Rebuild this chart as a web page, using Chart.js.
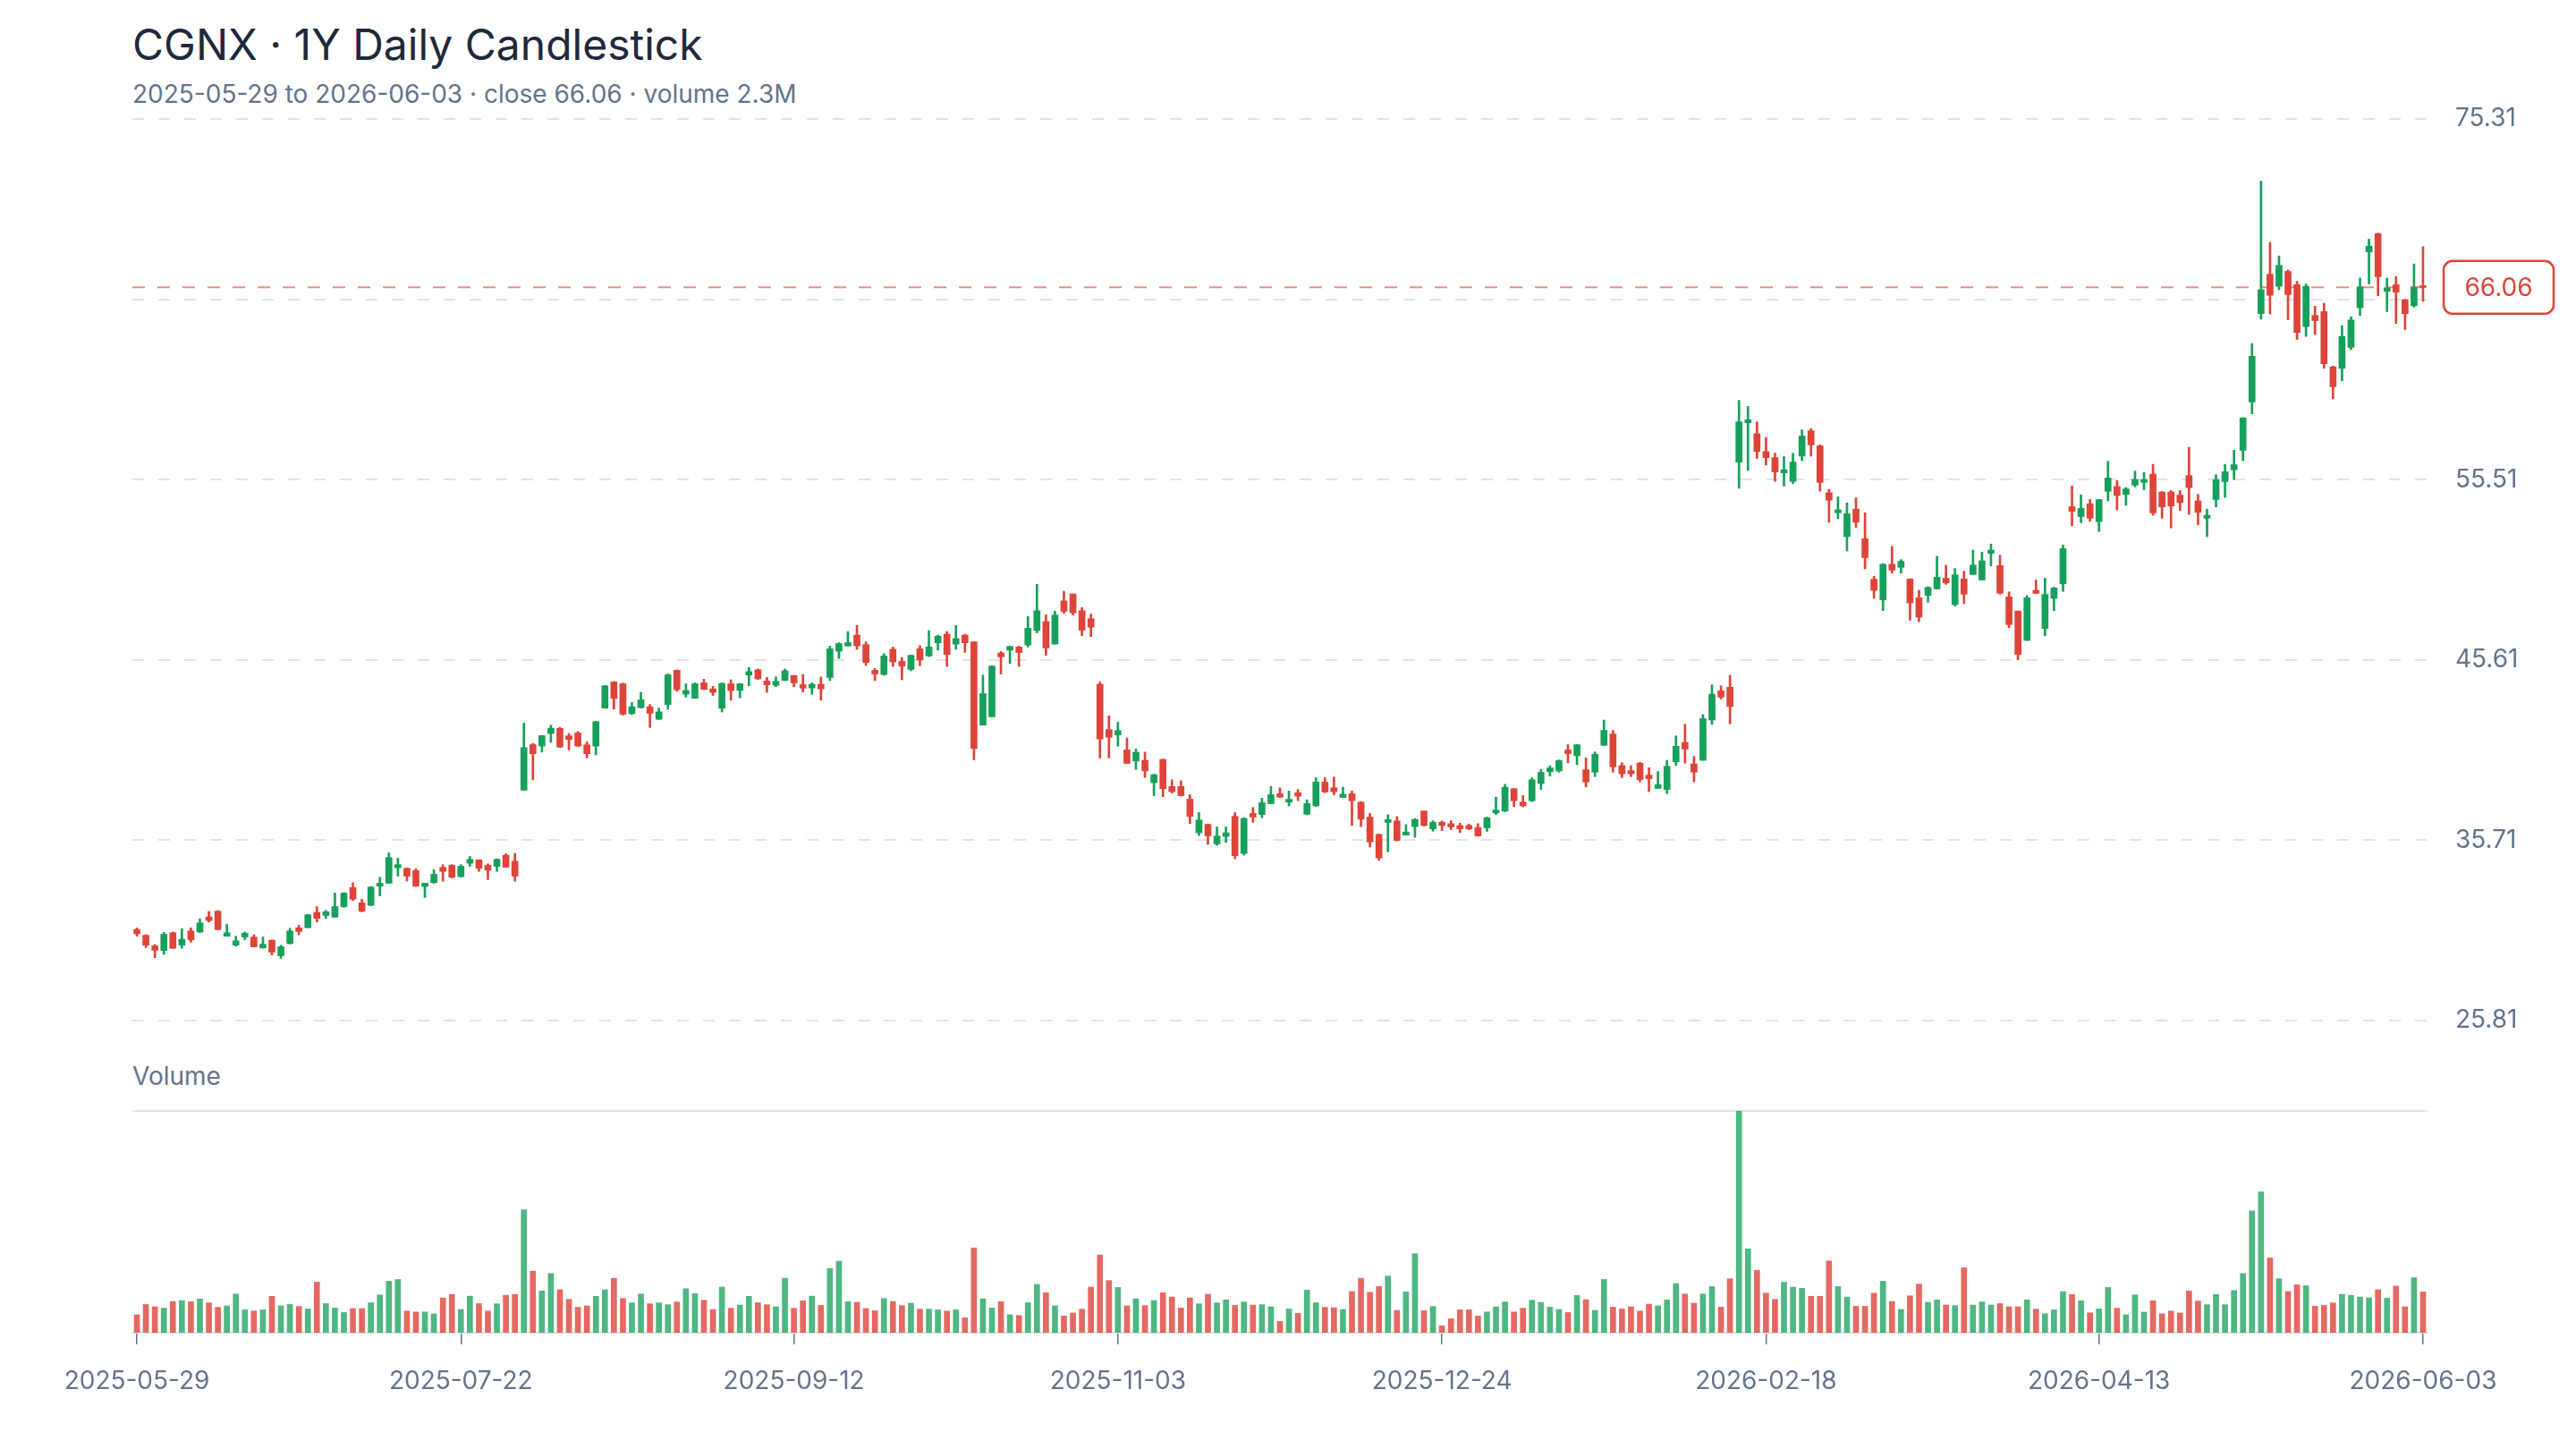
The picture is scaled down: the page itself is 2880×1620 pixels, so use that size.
<!DOCTYPE html>
<html><head><meta charset="utf-8">
<script src="https://cdn.jsdelivr.net/npm/chart.js@4.4.1/dist/chart.umd.min.js"></script>
<style>
html,body{margin:0;padding:0;background:#fff;}
body{width:2880px;height:1620px;position:relative;overflow:hidden;font-family:Inter,"Noto Sans",sans-serif;}
#title{position:absolute;left:148px;top:20px;font-size:48px;font-weight:400;color:#1e293b;line-height:60px;white-space:nowrap;}
#sub{position:absolute;left:148px;top:88px;font-size:28px;color:#64748b;line-height:34px;white-space:nowrap;}
#volLabel{position:absolute;left:148px;top:1186px;font-size:28px;color:#64748b;line-height:34px;}
#pc{position:absolute;left:0;top:0;}
#vc{position:absolute;left:0;top:1160px;}
</style></head>
<body>
<div id="title">CGNX · 1Y Daily Candlestick</div>
<div id="sub"></div>
<div id="volLabel">Volume</div>
<canvas id="pc" width="2880" height="1160"></canvas>
<canvas id="vc" width="2880" height="460"></canvas>
<script>
const dates = [
'2025-05-29','2025-05-30',
'2025-06-02','2025-06-03','2025-06-04','2025-06-05','2025-06-06','2025-06-09','2025-06-10','2025-06-11','2025-06-12','2025-06-13','2025-06-16','2025-06-17','2025-06-18','2025-06-20','2025-06-23','2025-06-24','2025-06-25','2025-06-26','2025-06-27','2025-06-30',
'2025-07-01','2025-07-02','2025-07-03','2025-07-07','2025-07-08','2025-07-09','2025-07-10','2025-07-11','2025-07-14','2025-07-15','2025-07-16','2025-07-17','2025-07-18','2025-07-21','2025-07-22','2025-07-23','2025-07-24','2025-07-25','2025-07-28','2025-07-29','2025-07-30','2025-07-31',
'2025-08-01','2025-08-04','2025-08-05','2025-08-06','2025-08-07','2025-08-08','2025-08-11','2025-08-12','2025-08-13','2025-08-14','2025-08-15','2025-08-18','2025-08-19','2025-08-20','2025-08-21','2025-08-22','2025-08-25','2025-08-26','2025-08-27','2025-08-28','2025-08-29',
'2025-09-02','2025-09-03','2025-09-04','2025-09-05','2025-09-08','2025-09-09','2025-09-10','2025-09-11','2025-09-12','2025-09-15','2025-09-16','2025-09-17','2025-09-18','2025-09-19','2025-09-22','2025-09-23','2025-09-24','2025-09-25','2025-09-26','2025-09-29','2025-09-30',
'2025-10-01','2025-10-02','2025-10-03','2025-10-06','2025-10-07','2025-10-08','2025-10-09','2025-10-10','2025-10-13','2025-10-14','2025-10-15','2025-10-16','2025-10-17','2025-10-20','2025-10-21','2025-10-22','2025-10-23','2025-10-24','2025-10-27','2025-10-28','2025-10-29','2025-10-30','2025-10-31',
'2025-11-03','2025-11-04','2025-11-05','2025-11-06','2025-11-07','2025-11-10','2025-11-11','2025-11-12','2025-11-13','2025-11-14','2025-11-17','2025-11-18','2025-11-19','2025-11-20','2025-11-21','2025-11-24','2025-11-25','2025-11-26','2025-11-28',
'2025-12-01','2025-12-02','2025-12-03','2025-12-04','2025-12-05','2025-12-08','2025-12-09','2025-12-10','2025-12-11','2025-12-12','2025-12-15','2025-12-16','2025-12-17','2025-12-18','2025-12-19','2025-12-22','2025-12-23','2025-12-24','2025-12-26','2025-12-29','2025-12-30','2025-12-31',
'2026-01-02','2026-01-05','2026-01-06','2026-01-07','2026-01-08','2026-01-09','2026-01-12','2026-01-13','2026-01-14','2026-01-15','2026-01-16','2026-01-20','2026-01-21','2026-01-22','2026-01-23','2026-01-26','2026-01-27','2026-01-28','2026-01-29','2026-01-30',
'2026-02-02','2026-02-03','2026-02-04','2026-02-05','2026-02-06','2026-02-09','2026-02-10','2026-02-11','2026-02-12','2026-02-13','2026-02-17','2026-02-18','2026-02-19','2026-02-20','2026-02-23','2026-02-24','2026-02-25','2026-02-26','2026-02-27',
'2026-03-02','2026-03-03','2026-03-04','2026-03-05','2026-03-06','2026-03-09','2026-03-10','2026-03-11','2026-03-12','2026-03-13','2026-03-16','2026-03-17','2026-03-18','2026-03-19','2026-03-20','2026-03-23','2026-03-24','2026-03-25','2026-03-26','2026-03-27','2026-03-30','2026-03-31',
'2026-04-01','2026-04-02','2026-04-06','2026-04-07','2026-04-08','2026-04-09','2026-04-10','2026-04-13','2026-04-14','2026-04-15','2026-04-16','2026-04-17','2026-04-20','2026-04-21','2026-04-22','2026-04-23','2026-04-24','2026-04-27','2026-04-28','2026-04-29','2026-04-30',
'2026-05-01','2026-05-04','2026-05-05','2026-05-06','2026-05-07','2026-05-08','2026-05-11','2026-05-12','2026-05-13','2026-05-14','2026-05-15','2026-05-18','2026-05-19','2026-05-20','2026-05-21','2026-05-22','2026-05-26','2026-05-27','2026-05-28','2026-05-29',
'2026-06-01','2026-06-02','2026-06-03'
];

const open = [
30.81,30.49,29.91,29.65,30.63,29.95,30.73,30.67,31.50,31.81,
30.44,29.95,30.40,30.39,29.80,30.22,29.37,30.04,30.90,30.91,
31.75,31.58,31.49,32.07,33.11,32.27,32.14,33.19,33.35,34.20,
34.17,34.04,33.17,33.38,34.22,34.33,33.71,34.45,34.63,34.33,
34.28,34.89,34.56,38.46,40.96,40.88,41.57,41.85,41.44,41.60,
40.95,40.88,42.96,44.40,44.30,42.67,42.99,43.04,42.35,43.16,
45.04,43.73,43.50,44.35,44.02,42.96,44.30,43.94,44.78,45.07,
44.45,44.22,44.48,44.75,44.25,44.07,44.27,44.65,46.09,46.38,
46.97,46.45,45.04,44.81,46.20,45.53,45.09,46.22,45.83,46.55,
47.02,46.48,46.97,46.60,42.03,42.49,45.99,46.15,46.32,46.43,
47.22,47.71,46.48,48.85,49.23,48.31,47.87,44.27,41.78,41.49,
40.67,40.06,40.10,38.87,40.15,38.66,38.66,37.97,36.12,36.58,
35.51,35.92,37.02,34.99,37.18,37.12,37.72,38.26,37.80,38.32,
37.14,37.60,38.90,38.59,38.06,38.26,37.80,36.98,36.03,36.69,
36.77,35.99,36.46,37.31,36.33,36.70,36.62,36.52,36.52,36.41,
36.39,37.21,37.31,38.54,37.80,37.88,38.83,39.47,39.52,40.66,
40.35,39.58,39.45,40.92,41.54,39.81,39.53,39.94,39.28,38.56,
38.50,40.02,41.08,39.90,40.10,42.31,43.91,44.11,56.47,58.63,
58.03,57.05,56.72,55.88,55.41,56.80,58.19,57.36,54.79,53.69,
52.38,53.89,52.26,50.04,48.91,50.86,50.69,50.05,49.02,49.15,
49.51,50.09,48.65,50.05,50.30,50.00,51.46,50.79,49.07,48.29,
46.68,49.43,47.34,48.99,49.79,54.02,53.48,54.18,53.20,54.87,
55.13,54.70,55.21,55.36,55.81,54.83,54.83,54.66,55.73,54.34,
53.39,54.42,55.40,56.05,57.12,59.77,64.62,66.78,66.12,66.94,
66.21,63.91,64.52,64.73,61.70,61.62,62.77,64.94,68.01,69.02,
65.85,66.21,65.39,65.06,66.16
];
const high = [
30.90,30.52,29.98,30.65,30.67,30.85,30.90,31.39,31.80,31.85,
31.09,30.44,30.67,30.52,30.40,30.24,29.95,30.88,31.04,31.65,
32.07,31.86,32.81,32.83,33.38,32.47,33.17,33.68,35.02,34.73,
34.19,34.14,33.35,34.09,34.37,34.37,34.37,34.82,34.64,34.41,
34.69,34.97,34.99,42.14,41.03,41.47,42.03,41.91,41.57,41.68,
41.11,42.24,44.20,44.42,44.34,43.27,43.83,43.16,42.96,44.84,
45.06,44.30,44.35,44.55,44.16,44.35,44.52,44.32,45.20,45.11,
44.65,44.68,45.11,44.76,44.81,44.35,44.68,46.37,46.55,47.17,
47.51,46.60,45.14,45.96,46.32,45.74,45.88,46.40,47.22,46.97,
47.17,47.50,47.02,46.61,44.78,45.30,46.07,46.37,46.37,47.99,
49.76,48.09,48.28,49.38,49.23,48.48,48.12,44.40,42.54,42.19,
41.32,40.72,40.55,39.33,40.16,39.03,38.98,38.21,37.23,36.59,
36.44,36.44,37.23,36.95,37.51,38.02,38.66,38.59,38.41,38.50,
37.93,39.14,39.14,39.18,38.62,38.41,37.83,37.18,36.05,37.11,
37.01,36.57,36.90,37.32,36.78,36.77,36.78,36.65,36.60,36.62,
36.98,38.08,38.78,38.55,38.16,39.14,39.60,39.80,40.12,40.96,
40.97,40.23,40.56,42.31,41.74,39.97,39.81,39.99,39.69,39.48,
40.10,41.44,42.07,40.31,42.61,44.24,44.19,44.77,59.86,59.53,
58.68,57.83,56.96,56.77,56.96,58.24,58.31,57.42,54.97,54.56,
54.23,54.51,53.69,50.20,50.90,51.84,51.12,50.07,49.43,49.63,
51.30,50.81,50.63,50.48,51.64,51.53,51.97,51.36,49.35,48.30,
49.14,50.00,50.09,49.60,51.92,55.16,54.67,54.42,54.42,56.52,
55.46,55.08,55.98,55.90,56.35,54.86,54.91,54.91,57.28,54.70,
53.88,55.78,56.35,57.12,58.92,62.98,71.89,68.53,67.79,67.02,
66.40,66.25,65.03,65.19,61.74,63.96,64.44,66.58,68.71,69.04,
66.57,66.66,65.40,67.35,68.30
];
const low = [
30.44,29.82,29.26,29.45,29.77,29.78,30.11,30.65,31.22,30.80,
30.44,29.90,30.24,29.85,29.78,29.41,29.23,30.01,30.52,30.90,
31.22,31.42,31.47,32.02,32.40,31.78,32.11,32.66,33.34,33.74,
33.47,33.17,32.57,33.35,33.46,33.64,33.69,34.28,34.00,33.55,
34.00,34.22,33.46,38.46,39.03,40.55,41.08,40.80,40.67,40.86,
40.23,40.39,42.96,42.91,42.58,42.62,42.96,41.90,42.34,42.91,
43.89,43.57,43.50,43.98,43.66,42.75,43.40,43.53,44.19,44.53,
43.83,44.14,44.47,44.14,43.86,43.73,43.40,44.47,45.69,46.37,
46.19,45.30,44.48,44.76,45.25,44.52,45.01,45.29,45.79,46.15,
45.25,46.19,46.02,40.13,42.03,42.49,44.84,45.42,45.25,46.32,
47.10,45.86,46.48,48.17,48.07,46.94,46.89,40.23,40.23,40.88,
39.92,39.60,39.16,38.16,38.10,38.30,38.13,36.62,35.97,35.48,
35.43,35.59,34.69,34.89,36.69,36.95,37.71,38.05,37.60,37.88,
37.11,37.57,38.32,38.21,38.05,36.52,36.46,35.34,34.61,35.08,
35.67,35.99,35.87,36.49,36.21,36.24,36.29,36.13,36.29,35.93,
36.20,37.11,37.28,37.55,37.55,37.83,38.50,39.24,39.44,39.96,
39.86,38.63,39.20,40.92,39.45,39.15,39.20,38.92,38.38,38.55,
38.27,39.81,39.94,38.92,40.10,42.07,43.46,42.10,55.03,56.01,
56.67,56.31,55.41,55.16,55.29,56.55,56.80,54.87,53.17,53.36,
51.59,52.87,50.61,48.99,48.32,50.38,50.38,47.79,47.71,48.78,
49.50,49.76,48.56,48.70,50.30,50.00,50.77,49.22,47.38,45.62,
46.68,49.25,46.94,48.32,49.37,52.98,53.15,53.23,52.66,54.34,
53.85,54.10,55.11,54.95,53.55,53.39,52.86,53.81,53.60,53.03,
52.37,54.01,54.53,55.51,56.55,59.12,64.32,64.60,65.93,64.29,
63.21,63.37,63.47,61.62,59.95,60.93,62.65,64.52,66.25,65.60,
64.73,64.08,63.75,64.98,65.30
];
const close = [
30.57,29.95,29.67,30.55,29.78,30.27,30.24,31.17,31.30,30.81,
30.63,30.19,30.60,29.86,30.00,29.57,29.86,30.73,30.70,31.62,
31.42,31.78,32.07,32.81,32.48,31.81,33.14,33.35,34.76,34.37,
33.74,33.19,33.35,33.84,34.00,33.68,34.28,34.66,34.17,34.07,
34.66,34.23,33.74,40.80,40.46,41.45,41.86,40.83,41.24,40.88,
40.46,42.22,44.19,43.50,42.63,43.04,43.42,42.68,42.76,44.79,
43.98,43.93,44.30,43.99,43.83,44.32,43.93,44.30,44.97,44.57,
44.24,44.43,45.01,44.35,44.06,44.27,44.02,46.22,46.51,46.56,
46.38,45.47,44.84,45.83,45.50,45.27,45.86,45.61,46.32,46.91,
45.91,46.78,46.55,40.75,43.76,45.27,45.78,46.35,46.02,47.35,
48.31,46.27,48.07,48.28,48.20,47.25,47.41,41.27,41.36,41.73,
39.93,40.54,39.52,39.31,38.54,38.38,38.16,37.02,36.82,35.95,
35.94,36.12,34.86,36.90,36.98,37.77,38.21,38.08,37.96,38.13,
37.72,38.91,38.36,38.37,38.24,37.88,36.87,35.62,34.74,36.85,
35.70,36.16,36.85,36.52,36.69,36.52,36.44,36.33,36.33,35.95,
36.95,37.37,38.62,37.88,37.60,39.03,39.44,39.68,40.09,40.47,
40.95,38.91,40.43,41.74,39.74,39.36,39.36,39.04,39.09,38.76,
39.77,40.87,40.72,39.45,42.39,43.73,43.57,43.05,58.68,58.80,
57.05,56.72,55.93,56.05,56.47,57.90,57.42,55.36,54.38,53.85,
53.64,53.17,51.23,49.43,50.86,50.54,51.02,48.74,47.96,49.59,
50.15,49.84,50.28,49.22,50.82,51.05,51.64,49.27,47.55,45.91,
49.02,49.27,49.20,49.56,51.72,53.77,53.93,53.39,54.41,55.60,
54.64,55.00,55.52,55.52,53.68,54.01,54.06,54.25,55.07,53.71,
53.55,55.51,55.94,56.33,58.89,62.28,65.93,65.63,67.27,65.67,
63.59,66.12,64.24,61.87,60.61,63.37,64.27,66.09,68.33,66.65,
66.04,65.80,64.62,66.09,66.06
];
// volume in millions of shares
const volume = [
1.01,1.59,1.46,1.38,1.76,1.81,1.75,1.90,1.68,1.43,
1.51,2.18,1.29,1.22,1.29,2.05,1.51,1.59,1.48,1.34,
2.85,1.64,1.39,1.14,1.36,1.36,1.69,2.13,2.90,3.00,
1.22,1.17,1.17,1.06,1.96,2.16,1.31,2.06,1.64,1.22,
1.63,2.11,2.15,6.93,3.47,2.35,3.34,2.42,1.88,1.43,
1.51,2.05,2.42,3.07,1.93,1.68,2.18,1.63,1.68,1.58,
1.73,2.48,2.20,1.83,1.31,2.57,1.38,1.56,2.05,1.69,
1.58,1.46,3.07,1.38,1.80,2.06,1.54,3.62,4.03,1.75,
1.71,1.36,1.24,1.93,1.76,1.53,1.66,1.33,1.33,1.29,
1.22,1.29,0.84,4.78,1.91,1.39,1.75,1.01,0.97,1.69,
2.72,2.25,1.51,0.94,1.11,1.33,2.57,4.38,2.94,2.55,
1.51,1.91,1.53,1.81,2.25,2.01,1.39,1.96,1.63,2.16,
1.68,1.85,1.54,1.73,1.56,1.58,1.46,0.64,1.34,1.09,
2.40,1.69,1.43,1.41,1.31,2.32,3.07,2.28,2.60,3.19,
1.26,2.30,4.45,1.24,1.48,0.39,0.79,1.29,1.29,0.94,
1.17,1.46,1.73,1.17,1.38,1.83,1.71,1.44,1.31,1.14,
2.10,1.86,1.26,3.00,1.44,1.34,1.46,1.22,1.61,1.51,
1.85,2.77,2.18,1.66,2.18,2.60,1.44,3.04,12.50,4.73,
3.52,2.23,1.88,2.85,2.57,2.50,2.05,2.05,4.04,2.60,
2.01,1.49,1.49,2.23,2.90,1.76,1.31,2.08,2.74,1.71,
1.85,1.56,1.53,3.66,1.56,1.73,1.56,1.64,1.46,1.46,
1.85,1.33,1.07,1.29,2.32,2.15,1.80,1.12,1.34,2.55,
1.38,1.01,2.13,1.16,1.80,1.07,1.22,1.11,2.35,1.78,
1.58,2.15,1.58,2.38,3.34,6.86,7.94,4.21,3.04,2.32,
2.70,2.65,1.49,1.54,1.68,2.16,2.10,2.01,1.96,2.42,
1.95,2.63,1.46,3.10,2.30
];
const priceTicks = [25.81, 35.71, 45.61, 55.51, 65.41, 75.31];
const dateTickLabels = ['2025-05-29','2025-07-22','2025-09-12','2025-11-03','2025-12-24','2026-02-18','2026-04-13','2026-06-03'];

const UP = '#16a05b', DOWN = '#de4438';
const VUP = 'rgba(22,160,91,0.76)', VDOWN = 'rgba(222,68,56,0.8)';
const AXIS = '#64748b', GRID = '#dfe3ec';
const n = close.length;
const lastClose = close[n-1];
const lastUp = close[n-1] >= open[n-1];
const isUp = close.map((c,i)=>c>=open[i]);
const candleColors = isUp.map(u=>u?UP:DOWN);
const volColors = isUp.map(u=>u?VUP:VDOWN);
const dateTickIdx = dateTickLabels.map(d=>dates.indexOf(d));

document.getElementById('sub').textContent =
  dates[0] + ' to ' + dates[n-1] + ' \u00b7 close ' + lastClose.toFixed(2) + ' \u00b7 volume ' + volume[n-1].toFixed(1) + 'M';

Chart.defaults.font.family = 'Inter, "Noto Sans", sans-serif';
Chart.defaults.color = AXIS;

const lastPricePlugin = {
  id: 'lastPrice',
  afterDatasetsDraw(chart){
    const {ctx, chartArea:a, scales:{y}} = chart;
    const py = y.getPixelForValue(lastClose);
    const col = lastUp ? UP : DOWN;
    ctx.save();
    ctx.strokeStyle = lastUp ? 'rgba(22,160,91,0.6)' : 'rgba(222,68,56,0.6)';
    ctx.lineWidth = 2;
    ctx.setLineDash([14,14]);
    ctx.beginPath(); ctx.moveTo(a.left, py); ctx.lineTo(a.right, py); ctx.stroke();
    ctx.setLineDash([]);
    const w = 123, h = 59, x = a.right + 18, t = py - h/2, r = 10;
    ctx.beginPath();
    ctx.moveTo(x+r, t); ctx.lineTo(x+w-r, t); ctx.arcTo(x+w, t, x+w, t+r, r);
    ctx.lineTo(x+w, t+h-r); ctx.arcTo(x+w, t+h, x+w-r, t+h, r);
    ctx.lineTo(x+r, t+h); ctx.arcTo(x, t+h, x, t+h-r, r);
    ctx.lineTo(x, t+r); ctx.arcTo(x, t, x+r, t, r); ctx.closePath();
    ctx.fillStyle = '#fff'; ctx.fill();
    ctx.lineWidth = 2.5; ctx.strokeStyle = col; ctx.stroke();
    ctx.fillStyle = col;
    ctx.font = '28px Inter, "Noto Sans", sans-serif';
    ctx.textAlign = 'center'; ctx.textBaseline = 'middle';
    ctx.fillText(lastClose.toFixed(2), x + w/2, py + 1);
    ctx.restore();
  }
};

new Chart(document.getElementById('pc'), {
  type: 'bar',
  data: {
    labels: dates,
    datasets: [
      { data: low.map((l,i)=>[l, high[i]]), backgroundColor: candleColors, barThickness: 2, grouped: false, order: 2 },
      { data: open.map((o,i)=>[o, close[i]]), backgroundColor: candleColors, barThickness: 7, grouped: false, minBarLength: 2, order: 1 }
    ]
  },
  options: {
    responsive: false, animation: false, devicePixelRatio: 1,
    layout: { padding: { left: 148, top: 133, right: 0, bottom: 19 } },
    plugins: { legend: { display: false }, tooltip: { enabled: false } },
    scales: {
      x: { display: false, offset: true },
      y: {
        position: 'right', min: priceTicks[0], max: priceTicks[priceTicks.length-1],
        afterBuildTicks: s => { s.ticks = priceTicks.map(v => ({ value: v })); },
        afterFit: s => { s.width = 166; s.paddingTop = 0; s.paddingBottom = 0; },
        ticks: { padding: 31, color: AXIS, font: { size: 28 },
                 callback: v => Math.abs(v - lastClose) < 1.5 ? '' : Number(v).toFixed(2) },
        grid: { color: GRID, lineWidth: 2, drawTicks: false },
        border: { display: false, dash: [13, 16] }
      }
    }
  },
  plugins: [lastPricePlugin]
});

const topLinePlugin = {
  id: 'topLine',
  beforeDatasetsDraw(chart){
    const {ctx, chartArea:a} = chart;
    ctx.save();
    ctx.strokeStyle = '#dde2ee'; ctx.lineWidth = 2;
    ctx.beginPath(); ctx.moveTo(a.left, a.top); ctx.lineTo(a.right, a.top); ctx.stroke();
    ctx.restore();
  }
};

new Chart(document.getElementById('vc'), {
  type: 'bar',
  data: { labels: dates, datasets: [{ data: volume, backgroundColor: volColors, barThickness: 6 }] },
  options: {
    responsive: false, animation: false, devicePixelRatio: 1,
    layout: { padding: { left: 148, right: 166, top: 82, bottom: 40 } },
    plugins: { legend: { display: false }, tooltip: { enabled: false } },
    scales: {
      x: {
        offset: true,
        afterBuildTicks: s => { s.ticks = dateTickIdx.map(v => ({ value: v })); },
        afterFit: s => { s.height = 90; },
        ticks: { autoSkip: false, maxRotation: 0, minRotation: 0, padding: 25, color: AXIS, font: { size: 28 } },
        grid: { offset: false, drawOnChartArea: false, drawTicks: true, tickLength: 13, color: AXIS, lineWidth: 1.5 },
        border: { display: true, color: GRID, width: 2 }
      },
      y: { display: false, min: 0, max: Math.max(...volume) }
    }
  },
  plugins: [topLinePlugin]
});
</script>
</body></html>
